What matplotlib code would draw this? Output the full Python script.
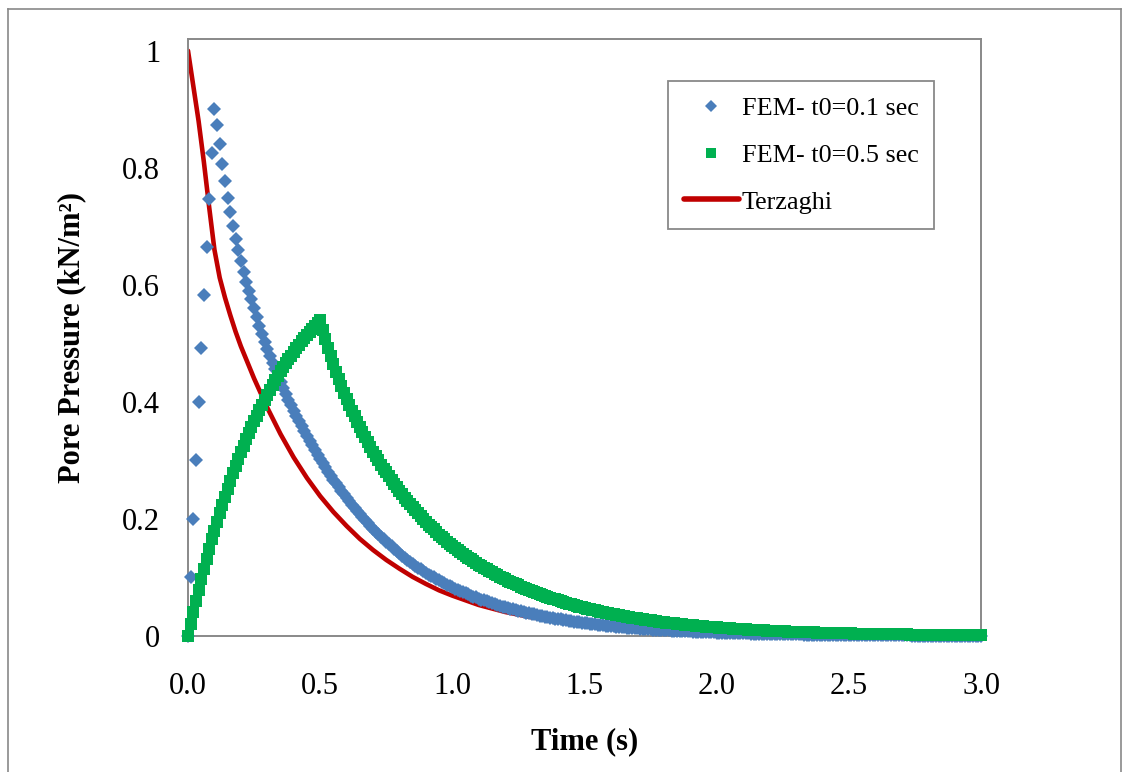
import numpy as np
import matplotlib
matplotlib.use("Agg")
import matplotlib.pyplot as plt
from matplotlib.lines import Line2D

# FEM, t0 = 0.1 sec (one value every 0.01 s from 0.00 to 3.00)
fem_t01 = [
    0.000, 0.100, 0.200, 0.300, 0.400, 0.492, 0.582, 0.665, 0.746, 0.825, 0.900,
    0.873, 0.840, 0.807, 0.777, 0.749, 0.724, 0.701, 0.679, 0.659, 0.641,
    0.622, 0.605, 0.590, 0.575, 0.560, 0.545, 0.530, 0.516, 0.503, 0.490,
    0.478, 0.467, 0.456, 0.445, 0.434, 0.424, 0.414, 0.404, 0.394, 0.385,
    0.376, 0.367, 0.358, 0.350, 0.341, 0.333, 0.326, 0.318, 0.310, 0.303,
    0.296, 0.288, 0.281, 0.274, 0.267, 0.261, 0.254, 0.248, 0.242, 0.236,
    0.230, 0.224, 0.219, 0.213, 0.208, 0.203, 0.198, 0.193, 0.188, 0.183,
    0.178, 0.174, 0.169, 0.165, 0.161, 0.157, 0.153, 0.149, 0.145, 0.141,
    0.137, 0.134, 0.130, 0.127, 0.123, 0.120, 0.117, 0.114, 0.111, 0.108,
    0.105, 0.102, 0.100, 0.097, 0.095, 0.092, 0.090, 0.087, 0.085, 0.083,
    0.081, 0.079, 0.077, 0.075, 0.073, 0.071, 0.069, 0.067, 0.066, 0.064,
    0.062, 0.061, 0.059, 0.058, 0.056, 0.055, 0.053, 0.052, 0.050, 0.049,
    0.0478, 0.0466, 0.0454, 0.0443, 0.0432, 0.0421, 0.0410, 0.0400, 0.0390, 0.0380,
    0.0370, 0.0360, 0.0350, 0.0341, 0.0332, 0.0323, 0.0314, 0.0306, 0.0298, 0.0290,
    0.0282, 0.0274, 0.0267, 0.0260, 0.0253, 0.0246, 0.0239, 0.0233, 0.0226, 0.0220,
    0.0214, 0.0209, 0.0204, 0.0199, 0.0194, 0.0189, 0.0184, 0.0179, 0.0175, 0.0170,
    0.0166, 0.0161, 0.0157, 0.0153, 0.0149, 0.0145, 0.0141, 0.0137, 0.0134, 0.0130,
    0.0127, 0.0123, 0.0120, 0.0117, 0.0114, 0.0111, 0.0108, 0.0105, 0.0103, 0.0100,
    0.0097, 0.0095, 0.0092, 0.0090, 0.0087, 0.0085, 0.0083, 0.0081, 0.0079, 0.0077,
    0.0075, 0.0073, 0.0071, 0.0069, 0.0067, 0.0065, 0.0064, 0.0062, 0.0060, 0.0059,
    0.0057, 0.0056, 0.0054, 0.0053, 0.0052, 0.0050, 0.0049, 0.0048, 0.0046, 0.0045,
    0.0044, 0.0043, 0.0042, 0.0041, 0.0040, 0.0039, 0.0038, 0.0037, 0.0036, 0.0035,
    0.0034, 0.0033, 0.0032, 0.0031, 0.0031, 0.0030, 0.0029, 0.0028, 0.0028, 0.0027,
    0.0026, 0.0026, 0.0025, 0.0024, 0.0024, 0.0023, 0.0023, 0.0022, 0.0021, 0.0021,
    0.0020, 0.0020, 0.0019, 0.0019, 0.0018, 0.0018, 0.0017, 0.0017, 0.0016, 0.0016,
    0.0016, 0.0015, 0.0015, 0.0014, 0.0014, 0.0014, 0.0013, 0.0013, 0.0013, 0.0012,
    0.0012, 0.0012, 0.0011, 0.0011, 0.0011, 0.0010, 0.0010, 0.0010, 0.0010, 0.0009,
    0.0009, 0.0009, 0.0009, 0.0008, 0.0008, 0.0008, 0.0008, 0.0007, 0.0007, 0.0007,
    0.0007, 0.0007, 0.0007, 0.0006, 0.0006, 0.0006, 0.0006, 0.0006, 0.0006, 0.0006,
    0.0005, 0.0005, 0.0005, 0.0005, 0.0005, 0.0005, 0.0004, 0.0004, 0.0004, 0.0004,
]

# FEM, t0 = 0.5 sec (one value every 0.01 s from 0.00 to 3.00)
fem_t05 = [
    0.000, 0.021, 0.041, 0.060, 0.079, 0.097, 0.115, 0.132, 0.148, 0.165, 0.180,
    0.195, 0.210, 0.224, 0.238, 0.252, 0.265, 0.278, 0.290, 0.302, 0.314,
    0.325, 0.336, 0.346, 0.357, 0.367, 0.376, 0.386, 0.395, 0.404, 0.412,
    0.421, 0.429, 0.437, 0.444, 0.452, 0.459, 0.466, 0.473, 0.479, 0.486,
    0.492, 0.498, 0.504, 0.509, 0.515, 0.520, 0.525, 0.530, 0.535, 0.540,
    0.523, 0.507, 0.492, 0.478, 0.464, 0.451, 0.439, 0.427, 0.416, 0.405,
    0.395, 0.385, 0.376, 0.366, 0.357, 0.348, 0.340, 0.331, 0.323, 0.315,
    0.308, 0.300, 0.293, 0.286, 0.280, 0.273, 0.266, 0.260, 0.254, 0.248,
    0.242, 0.236, 0.231, 0.225, 0.220, 0.215, 0.210, 0.205, 0.200, 0.195,
    0.190, 0.186, 0.182, 0.177, 0.173, 0.169, 0.165, 0.161, 0.158, 0.154,
    0.150, 0.147, 0.144, 0.140, 0.137, 0.134, 0.131, 0.128, 0.125, 0.122,
    0.1192, 0.1165, 0.1139, 0.1113, 0.1088, 0.1063, 0.1039, 0.1015, 0.0992, 0.0970,
    0.0948, 0.0926, 0.0905, 0.0885, 0.0864, 0.0845, 0.0825, 0.0807, 0.0788, 0.0770,
    0.0752, 0.0735, 0.0718, 0.0702, 0.0685, 0.0670, 0.0654, 0.0639, 0.0625, 0.0610,
    0.0596, 0.0582, 0.0568, 0.0554, 0.0541, 0.0529, 0.0516, 0.0504, 0.0492, 0.0480,
    0.0469, 0.0458, 0.0447, 0.0437, 0.0427, 0.0417, 0.0407, 0.0398, 0.0389, 0.0380,
    0.0371, 0.0362, 0.0354, 0.0346, 0.0337, 0.0330, 0.0322, 0.0314, 0.0307, 0.0300,
    0.0293, 0.0286, 0.0279, 0.0272, 0.0266, 0.0259, 0.0253, 0.0247, 0.0241, 0.0235,
    0.0229, 0.0224, 0.0219, 0.0214, 0.0209, 0.0204, 0.0199, 0.0194, 0.0190, 0.0185,
    0.0181, 0.0176, 0.0172, 0.0168, 0.0164, 0.0161, 0.0157, 0.0153, 0.0150, 0.0146,
    0.0143, 0.0139, 0.0136, 0.0133, 0.0130, 0.0127, 0.0124, 0.0121, 0.0118, 0.0115,
    0.0112, 0.0110, 0.0107, 0.0105, 0.0102, 0.0100, 0.0097, 0.0095, 0.0093, 0.0090,
    0.0088, 0.0086, 0.0084, 0.0082, 0.0080, 0.0078, 0.0076, 0.0075, 0.0073, 0.0071,
    0.0069, 0.0068, 0.0066, 0.0065, 0.0063, 0.0062, 0.0060, 0.0059, 0.0057, 0.0056,
    0.0055, 0.0053, 0.0052, 0.0051, 0.0050, 0.0049, 0.0047, 0.0046, 0.0045, 0.0044,
    0.0043, 0.0042, 0.0041, 0.0040, 0.0039, 0.0038, 0.0037, 0.0037, 0.0036, 0.0035,
    0.0034, 0.0033, 0.0032, 0.0032, 0.0031, 0.0030, 0.0029, 0.0029, 0.0028, 0.0027,
    0.0026, 0.0026, 0.0025, 0.0025, 0.0024, 0.0023, 0.0023, 0.0022, 0.0022, 0.0021,
    0.0021, 0.0020, 0.0020, 0.0019, 0.0019, 0.0018, 0.0018, 0.0018, 0.0017, 0.0017,
    0.0016, 0.0016, 0.0016, 0.0015, 0.0015, 0.0015, 0.0014, 0.0014, 0.0014, 0.0013,
]

# Terzaghi solution (line)
terz_time = [0.0, 0.02, 0.04, 0.06, 0.08, 0.10, 0.12, 0.14, 0.16, 0.18, 0.20,
             0.25, 0.30, 0.35, 0.40, 0.45, 0.50, 0.55, 0.60, 0.65, 0.70, 0.75,
             0.80, 0.85, 0.90, 0.95, 1.0, 1.1, 1.2, 1.3, 1.4, 1.5, 1.6, 1.7,
             1.8, 1.9, 2.0, 2.2, 2.4, 2.6, 2.8, 3.0]
terz_pp = [1.0, 0.94, 0.88, 0.81, 0.733, 0.66, 0.612, 0.578, 0.548, 0.52, 0.495,
           0.44, 0.39, 0.345, 0.305, 0.27, 0.239, 0.212, 0.188, 0.166, 0.147, 0.130,
           0.115, 0.101, 0.089, 0.078, 0.069, 0.053, 0.041, 0.032, 0.025, 0.019, 0.0145, 0.011,
           0.0085, 0.0065, 0.005, 0.003, 0.0018, 0.0011, 0.0007, 0.0004]

dt = 0.01
time_fem = np.arange(len(fem_t01)) * dt

blue = '#4A7EBB'
green = '#00B050'
red = '#C00000'
grey = '#898989'

plt.rcParams['font.family'] = 'Liberation Serif'

W, H = 1129, 772
fig = plt.figure(figsize=(W / 100, H / 100), dpi=100)
ax = fig.add_axes([188 / W, 1 - 636 / H, (981 - 188) / W, (636 - 39) / H])

ax.plot(terz_time, terz_pp, color=red, lw=3.3, label='Terzaghi', zorder=2,
        solid_joinstyle='round', solid_capstyle='round')
ax.plot(time_fem, fem_t01, ls='none', marker='D', ms=7.0, color=blue,
        mec=blue, mew=0, label='FEM- t0=0.1 sec', zorder=3, clip_on=False)
ax.plot(time_fem, fem_t05, ls='none', marker='s', ms=8.0, color=green,
        mec=green, mew=0, label='FEM- t0=0.5 sec', zorder=4, clip_on=False)

ax.set_xlim(0, 3.0)
ax.set_ylim(0, 1.02)
ax.set_xticks([0, 0.5, 1.0, 1.5, 2.0, 2.5, 3.0])
ax.set_xticklabels(['0.0', '0.5', '1.0', '1.5', '2.0', '2.5', '3.0'])
ax.set_yticks([0, 0.2, 0.4, 0.6, 0.8, 1.0])
ax.set_yticklabels(['0', '0.2', '0.4', '0.6', '0.8', '1'])
ax.tick_params(axis='both', length=0, labelsize=22)
ax.tick_params(axis='x', pad=26)
ax.tick_params(axis='y', pad=20)
for s in ax.spines.values():
    s.set_color(grey)
    s.set_linewidth(1.4)

ax.set_xlabel('Time (s)', fontsize=22, fontweight='bold')
ax.xaxis.set_label_coords(0.5, -0.152)
ax.set_ylabel('Pore Pressure (kN/m²)', fontsize=22, fontweight='bold')
ax.yaxis.set_label_coords(-0.128, 0.5)

handles, labels = ax.get_legend_handles_labels()
order = [1, 2, 0]
leg = ax.legend([handles[i] for i in order], [labels[i] for i in order],
                loc='upper left', bbox_to_anchor=(668 / W, 1 - 81 / H),
                bbox_transform=fig.transFigure, borderaxespad=0,
                fontsize=18.8, frameon=True, fancybox=False, framealpha=1,
                edgecolor=grey, handlelength=2.1, handletextpad=0.12,
                borderpad=0.6, labelspacing=0.9, numpoints=1)
leg.get_frame().set_linewidth(1.3)
leg.legend_handles[0].set_markersize(6.0)
leg.legend_handles[1].set_markersize(6.5)
leg.legend_handles[2].set_linewidth(4)

# outer chart border
for xs, ys in [([8, 8], [9, 780]), ([8, 1121], [9, 9]), ([1121, 1121], [9, 780])]:
    fig.add_artist(Line2D([x / W for x in xs], [1 - y / H for y in ys],
                          color=grey, lw=1.2))

fig.savefig('out.png', dpi=100)
